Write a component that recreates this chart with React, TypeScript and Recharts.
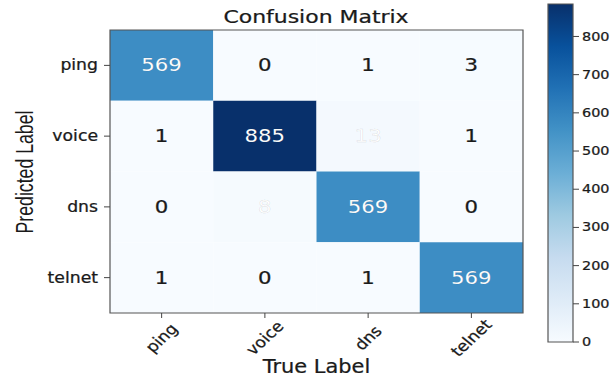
import { ComposedChart, XAxis, YAxis, ReferenceArea, Label } from "recharts"

const classes = ["ping", "voice", "dns", "telnet"]

// one row per predicted label, columns are the true labels
const pingRow = [569, 0, 1, 3]
const voiceRow = [1, 885, 13, 1]
const dnsRow = [0, 8, 569, 0]
const telnetRow = [1, 0, 1, 569]
const matrix = [pingRow, voiceRow, dnsRow, telnetRow]

const vmax = 885
const colorbarTicks = [0, 100, 200, 300, 400, 500, 600, 700, 800]

// matplotlib "Blues"
const bluesStops = ["#f7fbff", "#deebf7", "#c6dbef", "#9ecae1", "#6baed6", "#4292c6", "#2171b5", "#08519c", "#08306b"]

const FONT = "'DejaVu Sans', sans-serif"
const INK = "#1a1a1a"

function hexToRgb(h: string) {
  const n = parseInt(h.slice(1), 16)
  return [(n >> 16) & 255, (n >> 8) & 255, n & 255]
}

function blues(v: number) {
  const t = Math.max(0, Math.min(1, v / vmax)) * (bluesStops.length - 1)
  const i = Math.min(Math.floor(t), bluesStops.length - 2)
  const f = t - i
  const a = hexToRgb(bluesStops[i])
  const b = hexToRgb(bluesStops[i + 1])
  const c = a.map((x, k) => Math.round(x + (b[k] - x) * f))
  return `rgb(${c[0]},${c[1]},${c[2]})`
}

const cells = matrix.flatMap((row, r) =>
  row.map((value, c) => ({ x: c + 0.5, y: r + 0.5, row: r, col: c, value }))
)

const centers = classes.map((_, i) => i + 0.5)

// text widened a little, the way the figure was exported
function WideText(props: any) {
  const { x, y, sx = 1.15, rotate = 0, children, ...rest } = props
  return (
    <text
      transform={`translate(${x},${y}) scale(${sx},1) rotate(${rotate})`}
      fontFamily={FONT}
      fill={INK}
      stroke={INK}
      strokeWidth={0.25}
      {...rest}
    >
      {children}
    </text>
  )
}

function XTick(props: any) {
  const { x, y, payload } = props
  return (
    <WideText x={x} y={y + 18} rotate={-47} textAnchor="middle" dominantBaseline="central" fontSize={15}>
      {classes[Math.floor(payload.value)]}
    </WideText>
  )
}

function YTick(props: any) {
  const { x, y, payload } = props
  return (
    <WideText x={x} y={y} textAnchor="end" dominantBaseline="central" fontSize={15}>
      {classes[Math.floor(payload.value)]}
    </WideText>
  )
}

function BarTick(props: any) {
  const { x, y, payload } = props
  return (
    <WideText x={x} y={y} sx={1.2} textAnchor="start" dominantBaseline="central" fontSize={12}>
      {payload.value}
    </WideText>
  )
}

function CellLabel(props: any) {
  const { viewBox, value, light } = props
  const cx = viewBox.x + viewBox.width / 2
  const cy = viewBox.y + viewBox.height / 2
  return (
    <WideText
      x={cx}
      y={cy}
      sx={1.18}
      textAnchor="middle"
      dominantBaseline="central"
      fontSize={18}
      fill={light ? "#ffffff" : INK}
      stroke={light ? "rgba(0,0,0,0.07)" : INK}
      strokeWidth={light ? 1 : 0.25}
    >
      {value}
    </WideText>
  )
}

function AxisTitle(props: any) {
  const { viewBox } = props
  return (
    <WideText x={viewBox.x + viewBox.width / 2} y={373} sx={1.1} textAnchor="middle" fontSize={19}>
      True Label
    </WideText>
  )
}

function ColorBar() {
  return (
    <ComposedChart
      width={73}
      height={380}
      data={colorbarTicks.map((v) => ({ x: 0.5, v }))}
      margin={{ top: 4, right: 0, bottom: 38, left: 8 }}
    >
      <defs>
        <linearGradient id="bluesBar" x1="0" y1="1" x2="0" y2="0">
          {bluesStops.map((c, i) => (
            <stop key={c} offset={`${(i / (bluesStops.length - 1)) * 100}%`} stopColor={c} />
          ))}
        </linearGradient>
      </defs>
      <XAxis dataKey="x" type="number" domain={[0, 1]} hide />
      <YAxis
        orientation="right"
        type="number"
        domain={[0, vmax]}
        ticks={colorbarTicks}
        interval={0}
        width={40}
        axisLine={false}
        tickSize={6}
        tickMargin={3}
        tickLine={{ stroke: "#444" }}
        tick={<BarTick />}
        allowDataOverflow
      />
      <ReferenceArea x1={0} x2={1} y1={0} y2={vmax} fill="url(#bluesBar)" fillOpacity={1} stroke="#555" strokeWidth={1.2} />
    </ComposedChart>
  )
}

export default function App() {
  return (
    <div style={{ position: "absolute", left: 0, top: 0, width: 613, height: 380, background: "#fff" }}>
      <ComposedChart width={613} height={380} data={cells} margin={{ top: 30, right: 90, bottom: 7, left: 10 }}>
        <WideText x={316} y={23} sx={1.22} textAnchor="middle" fontSize={18}>
          Confusion Matrix
        </WideText>
        <text
          x={0}
          y={0}
          transform="translate(25,172) rotate(-90)"
          textAnchor="middle"
          dominantBaseline="central"
          fontFamily="'Liberation Sans', Arial, sans-serif"
          fontSize={23}
          textLength={123}
          lengthAdjust="spacingAndGlyphs"
          fill={INK}
        >
          Predicted Label
        </text>
        <XAxis
          dataKey="x"
          type="number"
          domain={[0, 4]}
          ticks={centers}
          interval={0}
          height={60}
          tickSize={5}
          axisLine={false}
          tickLine={{ stroke: "#444" }}
          tick={<XTick />}
          allowDataOverflow
        >
          <Label content={<AxisTitle />} />
        </XAxis>
        <YAxis
          dataKey="y"
          type="number"
          domain={[0, 4]}
          reversed
          ticks={centers}
          interval={0}
          width={100}
          tickSize={6}
          tickMargin={6}
          axisLine={false}
          tickLine={{ stroke: "#444" }}
          tick={<YTick />}
          allowDataOverflow
        />
        {cells.map((c) => (
          <ReferenceArea
            key={`${c.row}-${c.col}`}
            x1={c.col}
            x2={c.col + 1}
            y1={c.row}
            y2={c.row + 1}
            fill={blues(c.value)}
            fillOpacity={1}
            stroke="none"
            label={<CellLabel value={c.value} light={c.row === c.col || c.value >= 5} />}
          />
        ))}
        <ReferenceArea x1={0} x2={4} y1={0} y2={4} fill="none" stroke="#555" strokeWidth={1.2} />
      </ComposedChart>
      <div style={{ position: "absolute", left: 540, top: 0 }}>
        <ColorBar />
      </div>
    </div>
  )
}
